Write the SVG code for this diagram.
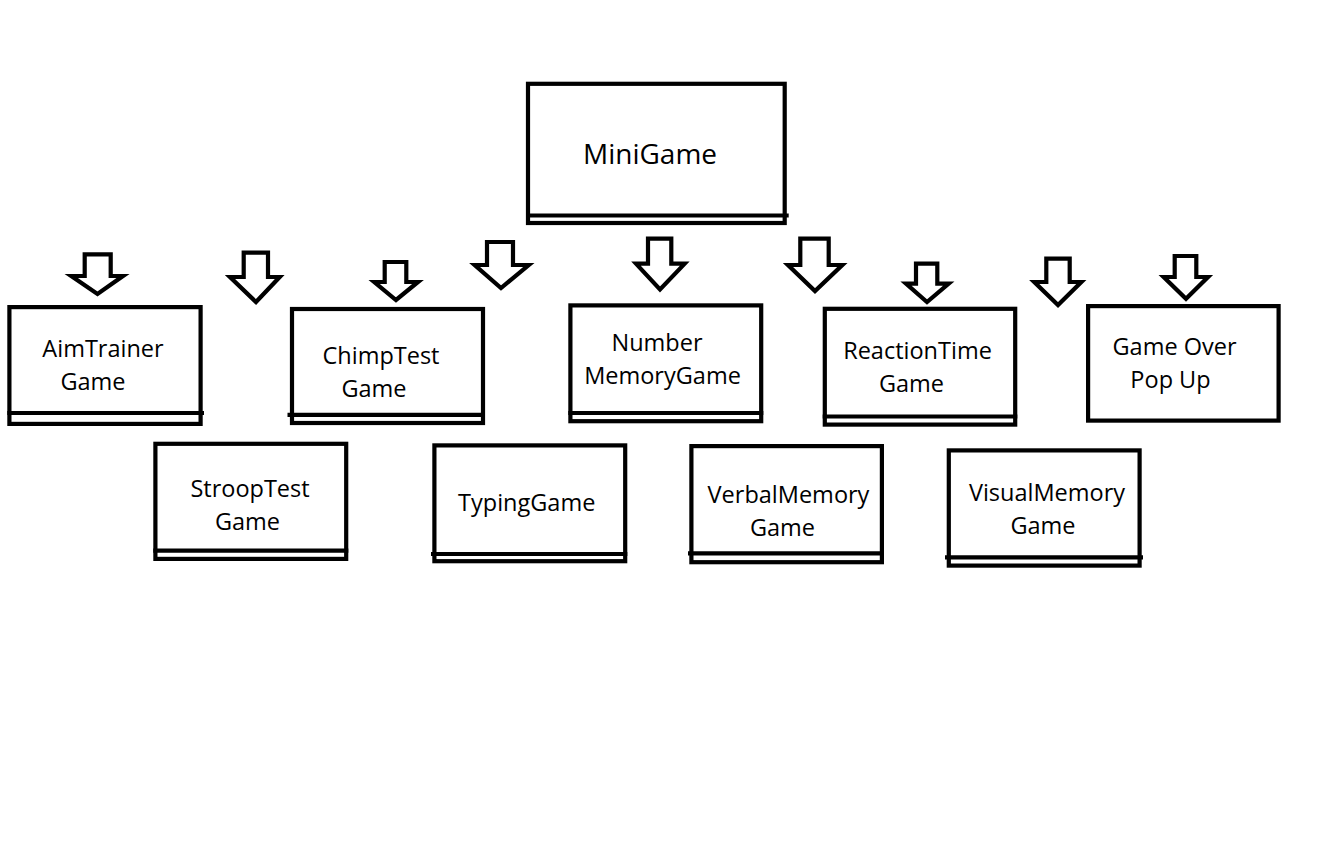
<svg xmlns="http://www.w3.org/2000/svg" width="1334" height="855" viewBox="0 0 1334 855">
<style>
.box{fill:none;stroke:#000;stroke-width:4.2}
.dl{stroke:#000;stroke-width:4.2}
.arr{fill:#fff;stroke:#000;stroke-width:4.2;stroke-linejoin:miter}
text{font-family:"Open Sans","Noto Sans","DejaVu Sans",sans-serif;font-size:23.5px;fill:#000;text-anchor:middle}
.big{font-size:28px}
</style>
<rect width="1334" height="855" fill="#fff"/>
<g id="connectors">
<path class="arr" d="M84.7,254.3 H110.7 V276 H123 L97.5,294 L71.3,276 H84.7 Z"/>
<path class="arr" d="M243.7,252.7 H268 V277 H279.7 L256,302 L230,277 H243.7 Z"/>
<path class="arr" d="M384.7,262 H406.3 V282 H418 L396,300 L374.3,282 H384.7 Z"/>
<path class="arr" d="M487,242 H513 V265 H528.7 L501,288 L474.7,265 H487 Z"/>
<path class="arr" d="M648,238.7 H671.3 V263.7 H684.7 L660,289.5 L636,263.7 H648 Z"/>
<path class="arr" d="M800.3,238.7 H828.7 V265 H842.3 L815,291 L788,265 H800.3 Z"/>
<path class="arr" d="M916,263.7 H937.3 V283.7 H948.7 L927,302 L906,283.7 H916 Z"/>
<path class="arr" d="M1046.3,258.7 H1069.7 V282 H1081.3 L1058,305 L1034.3,282 H1046.3 Z"/>
<path class="arr" d="M1174.7,256 H1196.3 V277 H1208 L1186,298.7 L1163.7,277 H1174.7 Z"/>
</g>
<g id="minigame">
<rect class="box" x="528" y="83.8" width="256.7" height="139.2"/>
<line class="dl" x1="526" y1="215.5" x2="788.7" y2="215.5"/>
<text class="big" x="650" y="163.5">MiniGame</text>
</g>
<g id="aimtrainer">
<rect class="box" x="9.4" y="307.1" width="191.2" height="116.8"/>
<line class="dl" x1="7.3" y1="413" x2="204" y2="413"/>
<text x="103" y="357">AimTrainer</text>
<text x="93" y="390">Game</text>
</g>
<g id="chimptest">
<rect class="box" x="292" y="309" width="191" height="114"/>
<line class="dl" x1="287.5" y1="414.8" x2="485" y2="414.8"/>
<text x="381" y="364">ChimpTest</text>
<text x="374" y="397">Game</text>
</g>
<g id="numbermemory">
<rect class="box" x="570.4" y="305.4" width="190.8" height="115.8"/>
<line class="dl" x1="568.3" y1="413" x2="763.3" y2="413"/>
<text x="657" y="350.5">Number</text>
<text x="662.5" y="383.5">MemoryGame</text>
</g>
<g id="reactiontime">
<rect class="box" x="824.8" y="308.8" width="190.4" height="115.8"/>
<line class="dl" x1="822.7" y1="416.5" x2="1017.3" y2="416.5"/>
<text x="917.5" y="359">ReactionTime</text>
<text x="911.5" y="392">Game</text>
</g>
<g id="gameover">
<rect class="box" x="1088.1" y="306.1" width="190.5" height="114.5"/>
<text x="1174.5" y="355">Game Over</text>
<text x="1170.5" y="388">Pop Up</text>
</g>
<g id="strooptest">
<rect class="box" x="155.4" y="443.8" width="190.8" height="115.1"/>
<line class="dl" x1="153.3" y1="550.7" x2="348.3" y2="550.7"/>
<text x="250" y="497">StroopTest</text>
<text x="247.5" y="529.5">Game</text>
</g>
<g id="typinggame">
<rect class="box" x="434.4" y="445.4" width="190.8" height="115.8"/>
<line class="dl" x1="431" y1="554" x2="627.3" y2="554"/>
<text x="526.7" y="511">TypingGame</text>
</g>
<g id="verbalmemory">
<rect class="box" x="691.4" y="446.1" width="190.5" height="116.1"/>
<line class="dl" x1="688" y1="553.3" x2="884" y2="553.3"/>
<text x="788.5" y="503">VerbalMemory</text>
<text x="782.5" y="536">Game</text>
</g>
<g id="visualmemory">
<rect class="box" x="948.8" y="450.4" width="190.8" height="115.2"/>
<line class="dl" x1="945" y1="557.3" x2="1143" y2="557.3"/>
<text x="1047" y="501">VisualMemory</text>
<text x="1043" y="534">Game</text>
</g>
</svg>
